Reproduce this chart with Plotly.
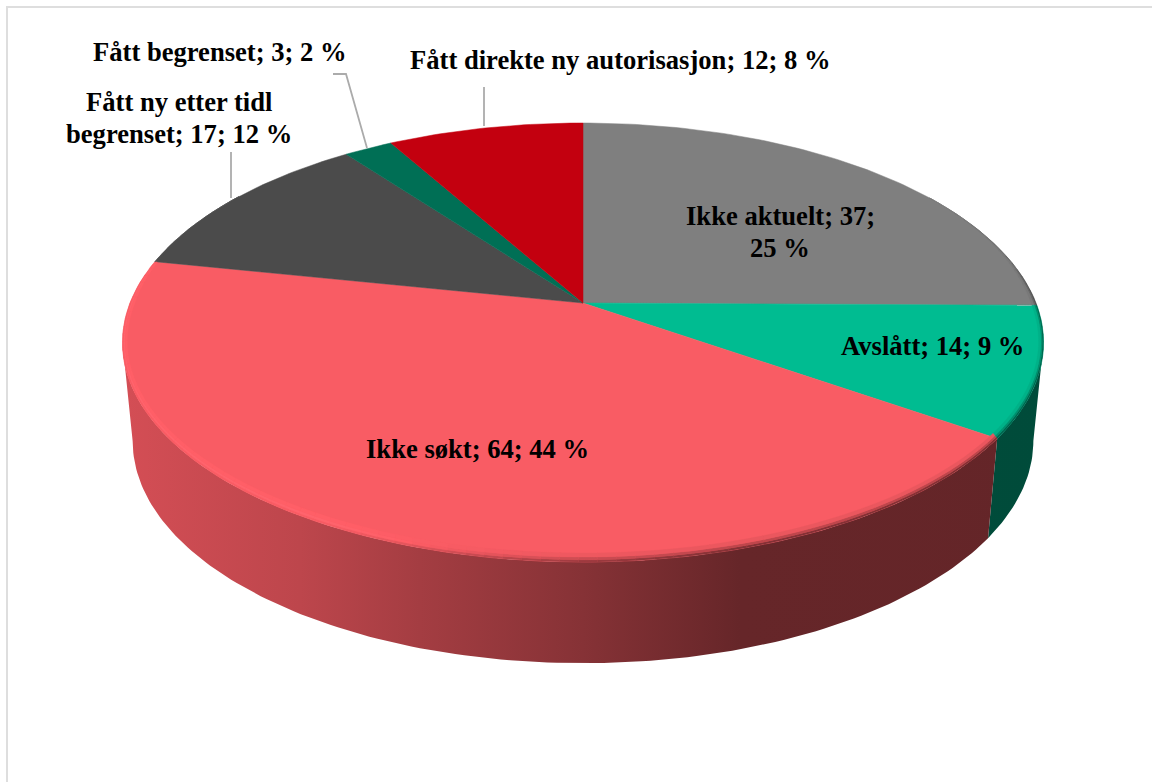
import math
import plotly.graph_objects as go

# Survey outcome counts, clockwise from twelve o'clock
categories = ["Ikke aktuelt", "Avslått", "Ikke søkt",
              "Fått ny etter tidl|begrenset", "Fått begrenset",
              "Fått direkte ny autorisasjon"]
counts = [37, 14, 64, 17, 3, 12]
percents = [25, 9, 44, 12, 2, 8]
colors = ["#7F7F7F", "#00BC91", "#F95C64", "#4B4B4B", "#006F55", "#C3000F"]
# Text between the count and the percent; "|" starts a new line
percent_sep = ["|", " ", " ", " ", " ", " "]
label_pos = [(780, 216), (932, 346), (477, 449), (179, 102), (220, 52), (620, 60)]
LINE_GAP = 32

# Perspective model of the disc: top face and bottom face
TOP = dict(cx=583, cy=303, a=453, b=212.4, k=0.18)
BOT = dict(cx=583, cy=401, a=443, b=215, k=0.18)
# Wall shading along screen x
SHADE_X = [123, 300, 420, 583, 740, 1045]
SHADE_F = [0.85, 0.76, 0.66, 0.54, 0.41, 0.40]


def project(theta_deg, r, p):
    t = math.radians(theta_deg)
    w = 1 + p["k"] * r * math.cos(t)
    return (p["cx"] + p["a"] * r * math.sin(t) / w,
            p["cy"] - p["b"] * r * math.cos(t) / w)


def rgb(hex_color):
    return tuple(int(hex_color[i:i + 2], 16) for i in (1, 3, 5))


def scaled(hex_color, f):
    return "rgb(%d,%d,%d)" % tuple(min(255, round(c * f)) for c in rgb(hex_color))


def shade_at(x):
    if x <= SHADE_X[0]:
        return SHADE_F[0]
    for i in range(len(SHADE_X) - 1):
        if x <= SHADE_X[i + 1]:
            u = (x - SHADE_X[i]) / (SHADE_X[i + 1] - SHADE_X[i])
            return SHADE_F[i] + u * (SHADE_F[i + 1] - SHADE_F[i])
    return SHADE_F[-1]


def steps(a, b, size):
    n = max(1, math.ceil((b - a) / size))
    return [a + (b - a) * i / n for i in range(n + 1)]


def poly(fig, pts, color, edge=0.8):
    xs = [p[0] for p in pts] + [pts[0][0]]
    ys = [p[1] for p in pts] + [pts[0][1]]
    fig.add_trace(go.Scatter(x=xs, y=ys, mode="lines", fill="toself", fillcolor=color,
                             line=dict(color=color, width=edge), hoverinfo="skip",
                             showlegend=False))


# Slice angles come straight from the counts
total = sum(counts)
bounds = [0.0]
for c in counts:
    bounds.append(bounds[-1] + 360.0 * c / total)

fig = go.Figure()

# Outer wall: only the arc between the two silhouette tangents can be seen
tangent = math.degrees(math.acos(-TOP["k"]))
span = SHADE_X[-1] - SHADE_X[0]
for i, col in enumerate(colors):
    a, b = max(bounds[i], tangent), min(bounds[i + 1], 360 - tangent)
    if a >= b:
        continue
    grid = steps(a, b, 1.0)
    outline = [project(t, 1, TOP) for t in grid] + [project(t, 1, BOT) for t in reversed(grid)]
    xs = [p[0] for p in outline] + [outline[0][0]]
    ys = [p[1] for p in outline] + [outline[0][1]]
    scale = [[(x - SHADE_X[0]) / span, scaled(col, f)] for x, f in zip(SHADE_X, SHADE_F)]
    fig.add_trace(go.Scatter(x=xs, y=ys, mode="lines", fill="toself",
                             fillgradient=dict(type="horizontal", colorscale=scale,
                                               start=SHADE_X[0], stop=SHADE_X[-1]),
                             line=dict(width=0), hoverinfo="skip", showlegend=False))

# Top face of every slice
for i, col in enumerate(colors):
    arc = [project(t, 1, TOP) for t in steps(bounds[i], bounds[i + 1], 1.0)]
    poly(fig, [(TOP["cx"], TOP["cy"])] + arc, col, edge=0.5)


def rim_point(theta, f):
    """Point on the bevel; f=0 is the outer edge, f=1 the inner edge of the band."""
    x, y = project(theta, 1, TOP)
    t = math.radians(theta)
    fade = max(0.0, min(1.0, (0.55 - math.cos(t)) / 0.55))
    return (x - 5.0 * f * fade * math.sin(t),
            y - 9.0 * f * fade * max(0.0, -math.cos(t)))


# Bevel: lit pink toward lower left, falling smoothly into the wall tone toward lower right
BANDS = [(0.0, 0.25), (0.25, 0.55), (0.55, 1.0)]
LIT_GAINS = [1.0, 1.09, 1.03]
DARK_MIX = [0.8, 0.4, 0.1]
for i, col in enumerate(colors):
    grid = steps(bounds[i], bounds[i + 1], 2.0)
    for a, b in zip(grid, grid[1:]):
        mid = (a + b) / 2
        t = math.radians(mid)
        if math.cos(t) > 0.55:
            continue
        u = max(0.0, min(1.0, (-math.sin(t) + 0.05) / 0.6))
        lit = u * u * (3 - 2 * u)
        wall = shade_at(project(mid, 1, TOP)[0])
        drop = 1.0 if math.cos(t) < 0 else max(0.0, 1 - math.cos(t) / 0.55) * 0.6 + 0.2
        for (f0, f1), g_lit, mix in zip(BANDS, LIT_GAINS, DARK_MIX):
            g_dark = 1 - (1 - wall) * mix * drop
            poly(fig, [rim_point(a, f0), rim_point(b, f0), rim_point(b, f1), rim_point(a, f1)],
                 scaled(col, lit * g_lit + (1 - lit) * g_dark), edge=0.3)

# Leader lines for the labels placed outside the disc
leaders = [([231, 231], [152, 198]),
           ([333, 346, 367], [74, 74, 148]),
           ([484, 484], [87, 126])]
for lx, ly in leaders:
    fig.add_trace(go.Scatter(x=lx, y=ly, mode="lines", hoverinfo="skip", showlegend=False,
                             line=dict(color="#ABABAB", width=1.8)))

# Data labels: category; count; percent
for i, (x, y) in enumerate(label_pos):
    text = "%s; %d;%s%d %%" % (categories[i], counts[i], percent_sep[i], percents[i])
    for n, line in enumerate(text.split("|")):
        fig.add_annotation(x=x, y=y + n * LINE_GAP, text=line, showarrow=False,
                           xanchor="center", yanchor="middle",
                           font=dict(family="Liberation Serif", size=26.6, color="#000000",
                                     weight="bold"))

# Chart frame, open on the right and bottom
fig.add_shape(type="line", x0=7, x1=7, y0=7, y1=782, line=dict(color="#DEDEDE", width=2))
fig.add_shape(type="line", x0=6, x1=1152, y0=7, y1=7, line=dict(color="#DEDEDE", width=2))

fig.update_layout(width=1152, height=782, margin=dict(l=0, r=0, t=0, b=0),
                  paper_bgcolor="white", plot_bgcolor="white", showlegend=False,
                  xaxis=dict(range=[0, 1152], visible=False, fixedrange=True),
                  yaxis=dict(range=[782, 0], visible=False, fixedrange=True))
fig.write_html("out.html", config=dict(displayModeBar=False))
